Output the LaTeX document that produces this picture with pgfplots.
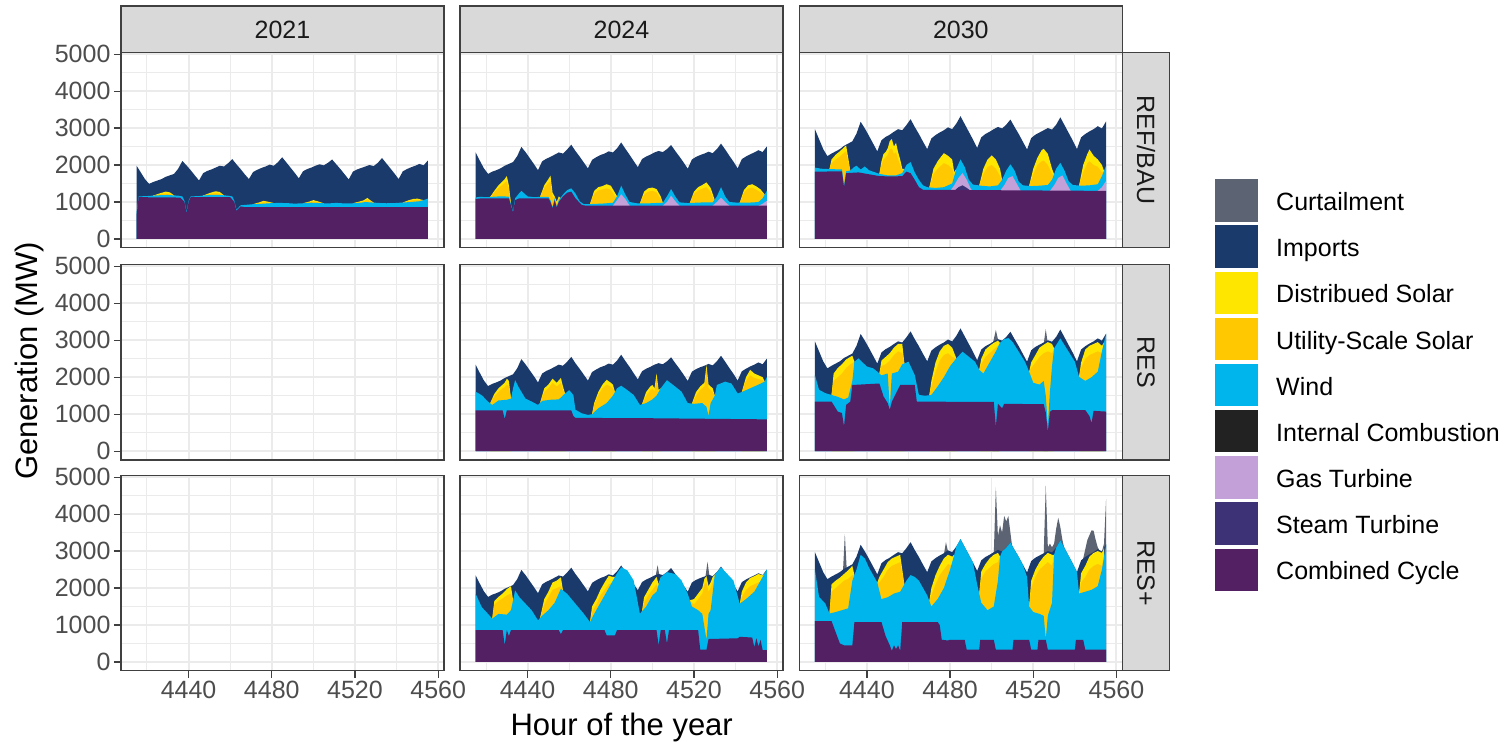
\documentclass[border=0pt]{standalone}
\usepackage{fontspec}
\setmainfont{Liberation Sans}
\usepackage{pgfplots}
\usepackage{pgfplotstable}
\pgfplotsset{compat=1.18}
\definecolor{cCur}{HTML}{5C6372}
\definecolor{cImp}{HTML}{1A3A6C}
\definecolor{cDs}{HTML}{FFE600}
\definecolor{cUs}{HTML}{FFC800}
\definecolor{cW}{HTML}{00B4EC}
\definecolor{cIc}{HTML}{222222}
\definecolor{cGt}{HTML}{C3A0D7}
\definecolor{cSt}{HTML}{3D3275}
\definecolor{cCc}{HTML}{532064}
\definecolor{cGrid}{HTML}{EBEBEB}
\definecolor{cFrame}{HTML}{404040}
\definecolor{cStrip}{HTML}{D9D9D9}
\definecolor{cTick}{HTML}{4D4D4D}
\definecolor{cStripT}{HTML}{1A1A1A}
\newcommand\smallf{\fontsize{25}{30}\selectfont}
\newcommand\bigf{\fontsize{31}{37}\selectfont}

\pgfplotstableread{
h v
4415 1980
4417 1800
4419 1620
4421 1490
4423 1540
4425 1580
4427 1620
4429 1680
4431 1720
4433 1760
4435 1900
4437 2110
4439 1990
4441 1860
4443 1720
4445 1580
4447 1780
4449 1840
4451 1880
4453 1930
4455 1980
4457 1960
4459 2050
4461 2160
4463 2020
4465 1890
4467 1750
4469 1620
4471 1810
4473 1870
4475 1920
4477 1960
4479 2010
4481 1980
4483 2080
4485 2210
4487 2070
4489 1930
4491 1790
4493 1640
4495 1830
4497 1890
4499 1930
4501 1980
4503 2020
4505 1990
4507 2060
4509 2150
4511 2020
4513 1890
4515 1750
4517 1610
4519 1820
4521 1880
4523 1920
4525 1960
4527 2000
4529 1970
4531 2060
4533 2190
4535 2050
4537 1910
4539 1770
4541 1620
4543 1830
4545 1890
4547 1940
4549 1980
4551 2030
4553 1990
4555 2120
}\totA

\pgfplotstableread{
h v
4415 2340
4417 2120
4419 1910
4421 1760
4423 1820
4425 1860
4427 1910
4429 1980
4431 2030
4433 2080
4435 2240
4437 2490
4439 2350
4441 2190
4443 2030
4445 1860
4447 2100
4449 2170
4451 2220
4453 2280
4455 2340
4457 2310
4459 2420
4461 2550
4463 2380
4465 2230
4467 2070
4469 1910
4471 2140
4473 2210
4475 2270
4477 2310
4479 2370
4481 2340
4483 2450
4485 2610
4487 2440
4489 2280
4491 2110
4493 1940
4495 2160
4497 2230
4499 2280
4501 2340
4503 2380
4505 2350
4507 2430
4509 2540
4511 2380
4513 2230
4515 2070
4517 1900
4519 2150
4521 2220
4523 2270
4525 2310
4527 2360
4529 2320
4531 2430
4533 2580
4535 2420
4537 2250
4539 2090
4541 1910
4543 2160
4545 2230
4547 2290
4549 2340
4551 2400
4553 2350
4555 2500
}\totB

\pgfplotstableread{
h v
4415 2970
4417 2700
4419 2430
4421 2240
4423 2310
4425 2370
4427 2430
4429 2520
4431 2580
4433 2640
4435 2850
4437 3170
4439 2990
4441 2790
4443 2580
4445 2370
4447 2670
4449 2760
4451 2820
4453 2900
4455 2970
4457 2940
4459 3080
4461 3240
4463 3030
4465 2840
4467 2630
4469 2430
4471 2720
4473 2810
4475 2880
4477 2940
4479 3020
4481 2970
4483 3120
4485 3320
4487 3110
4489 2900
4491 2690
4493 2460
4495 2750
4497 2840
4499 2900
4501 2970
4503 3030
4505 2990
4507 3090
4509 3230
4511 3030
4513 2840
4515 2630
4517 2420
4519 2730
4521 2820
4523 2880
4525 2940
4527 3000
4529 2960
4531 3090
4533 3290
4535 3080
4537 2870
4539 2660
4541 2430
4543 2750
4545 2840
4547 2910
4549 2970
4551 3050
4553 2990
4555 3180
}\totC

\pgfplotsset{
  lCur/.style={draw=none,fill=cCur},
  lImp/.style={draw=none,fill=cImp},
  lDs/.style={draw=none,fill=cDs},
  lUs/.style={draw=none,fill=cUs},
  lW/.style={draw=none,fill=cW},
  lGt/.style={draw=none,fill=cGt},
  lSt/.style={draw=none,fill=cSt},
  lCc/.style={draw=none,fill=cCc},
  panel/.style={
    scale only axis, width=323pt, height=195.5pt, anchor=north west,
    xmin=4407.5, xmax=4562.8, ymin=-240, ymax=5050,
    xtick={4440,4480,4520,4560}, minor xtick={4420,4460,4500,4540},
    ytick={0,1000,2000,3000,4000,5000}, minor ytick={500,1500,2500,3500,4500},
    xmajorgrids, ymajorgrids, xminorgrids, yminorgrids,
    major grid style={draw=cGrid, line width=2pt},
    minor grid style={draw=cGrid, line width=1pt},
    axis line style={draw=cFrame, line width=1.2pt},
    tick align=outside, major tick length=7pt, minor tick length=0pt,
    xtick pos=bottom, ytick pos=left,
    xtick style={draw=none}, ytick style={draw=none},
    xticklabels={}, yticklabels={},
    ticklabel style={font=\smallf, text=cTick},
  },
  ylab/.style={yticklabels={0,1000,2000,3000,4000,5000}, ytick style={draw=cFrame, line width=1.2pt}},
  xlab/.style={xticklabels={4440,4480,4520,4560}, xtick style={draw=cFrame, line width=1.2pt}},
}

\begin{document}
\begin{tikzpicture}
\path[use as bounding box] (0pt,0pt) rectangle (1508pt,-743pt);

% ---------------- 2021 REF/BAU
\begin{axis}[panel, ylab, at={(121pt,-52.3pt)}]
\addplot[lImp] table[x=h,y=v]{\totA} \closedcycle;
\addplot[lDs] coordinates {(4423,1172)(4426,1230)(4429,1280)(4431,1260)(4433,1178)} \closedcycle;
\addplot[lDs] coordinates {(4447,1172)(4450,1240)(4453,1290)(4455,1270)(4457,1180)} \closedcycle;
\addplot[lDs] coordinates {(4471,940)(4474,990)(4476,1030)(4478,1010)(4481,970)} \closedcycle;
\addplot[lDs] coordinates {(4495,965)(4498,1010)(4500,1050)(4502,1020)(4505,965)} \closedcycle;
\addplot[lDs] coordinates {(4519,965)(4522,1010)(4524,1040)(4526,1110)(4527,1060)(4529,982)} \closedcycle;
\addplot[lDs] coordinates {(4543,985)(4546,1050)(4548,1080)(4550,1090)(4553,1050)} \closedcycle;
\addplot[lUs] coordinates {(4423,1172)(4426,1205)(4429,1230)(4431,1220)(4433,1178)} \closedcycle;
\addplot[lUs] coordinates {(4447,1172)(4450,1215)(4453,1240)(4455,1225)(4457,1180)} \closedcycle;
\addplot[lUs] coordinates {(4471,940)(4474,965)(4476,990)(4478,985)(4481,970)} \closedcycle;
\addplot[lUs] coordinates {(4495,965)(4498,985)(4500,1010)(4502,995)(4505,965)} \closedcycle;
\addplot[lUs] coordinates {(4519,965)(4522,990)(4524,1010)(4526,1070)(4527,1030)(4529,982)} \closedcycle;
\addplot[lUs] coordinates {(4543,985)(4546,1025)(4548,1050)(4550,1055)(4553,1050)} \closedcycle;
\addplot[lW] coordinates {(4415,720)(4416,1150)(4420,1160)(4425,1180)(4430,1190)(4435,1170)(4437,1150)(4438,1030)(4439,730)(4440,1030)(4441,1150)(4445,1160)(4450,1190)(4455,1190)(4459,1170)(4461,1150)(4462,1030)(4463,790)(4465,910)(4467,920)(4471,940)(4475,950)(4479,965)(4483,975)(4487,970)(4491,955)(4495,965)(4499,980)(4503,970)(4507,960)(4511,975)(4515,960)(4519,965)(4523,980)(4525,1000)(4527,990)(4531,975)(4535,965)(4539,970)(4543,985)(4547,1000)(4551,1020)(4553,1050)(4555,1090)} \closedcycle;
\addplot[lCc] coordinates {(4415,650)(4416,1130)(4436,1120)(4438,1000)(4439,700)(4440,1000)(4441,1130)(4460,1130)(4462,1000)(4463,760)(4465,880)(4467,860)(4555,860)} \closedcycle;
\end{axis}

% ---------------- 2024 REF/BAU
\begin{axis}[panel, at={(460pt,-52.3pt)}]
\addplot[lImp] table[x=h,y=v]{\totB} \closedcycle;
\addplot[lDs] coordinates {(4422,1135)(4424,1300)(4426,1450)(4428,1560)(4429,1620)(4430,1700)(4431,1450)(4432,950)} \closedcycle;
\addplot[lDs] coordinates {(4446,1140)(4448,1450)(4450,1620)(4451,1710)(4452,1250)(4453,1150)(4454,1000)(4455,1150)(4456,1100)} \closedcycle;
\addplot[lDs] coordinates {(4470,945)(4472,1300)(4474,1400)(4476,1430)(4478,1480)(4480,1440)(4482,1250)(4483,1150)} \closedcycle;
\addplot[lDs] coordinates {(4494,960)(4496,1280)(4498,1370)(4500,1390)(4502,1350)(4504,1150)(4505,980)} \closedcycle;
\addplot[lDs] coordinates {(4518,975)(4520,1280)(4522,1400)(4524,1460)(4526,1530)(4528,1380)(4530,1050)} \closedcycle;
\addplot[lDs] coordinates {(4542,980)(4544,1320)(4546,1450)(4548,1480)(4550,1420)(4552,1340)(4554,1200)} \closedcycle;
\addplot[lUs] coordinates {(4422,1135)(4424,1260)(4426,1380)(4428,1470)(4429,1520)(4430,1560)(4431,1350)(4432,950)} \closedcycle;
\addplot[lUs] coordinates {(4446,1140)(4448,1380)(4450,1520)(4451,1560)(4452,1150)(4453,1120)(4454,950)(4455,1100)(4456,1090)} \closedcycle;
\addplot[lUs] coordinates {(4470,945)(4472,1220)(4474,1310)(4476,1340)(4478,1370)(4480,1330)(4482,1150)(4483,1150)} \closedcycle;
\addplot[lUs] coordinates {(4494,960)(4496,1200)(4498,1280)(4500,1300)(4502,1260)(4504,1080)(4505,980)} \closedcycle;
\addplot[lUs] coordinates {(4518,975)(4520,1220)(4522,1310)(4524,1360)(4526,1400)(4528,1270)(4530,1000)} \closedcycle;
\addplot[lUs] coordinates {(4542,980)(4544,1250)(4546,1360)(4548,1390)(4550,1330)(4552,1260)(4554,1200)} \closedcycle;
\addplot[lW] coordinates {(4415,1120)(4417,1140)(4420,1130)(4423,1140)(4426,1150)(4429,1150)(4431,1140)(4432,950)(4433,740)(4434,1100)(4436,1240)(4437,1300)(4438,1250)(4440,1150)(4443,1130)(4447,1140)(4450,1140)(4451,1050)(4452,860)(4453,1100)(4454,880)(4455,1050)(4457,1200)(4459,1320)(4461,1370)(4463,1230)(4465,1020)(4467,940)(4469,940)(4473,950)(4477,960)(4481,980)(4483,1150)(4485,1440)(4487,1200)(4489,1000)(4493,960)(4497,960)(4501,970)(4505,980)(4507,1150)(4509,1350)(4511,1150)(4513,990)(4517,970)(4521,980)(4525,990)(4529,990)(4531,1150)(4533,1400)(4535,1150)(4537,1000)(4541,980)(4545,980)(4549,990)(4551,1000)(4553,1100)(4555,1300)} \closedcycle;
\addplot[lGt] coordinates {(4481,900)(4483,1050)(4485,1210)(4487,1080)(4489,900)} \closedcycle;
\addplot[lGt] coordinates {(4505,900)(4507,1000)(4509,1170)(4511,1020)(4513,900)} \closedcycle;
\addplot[lGt] coordinates {(4529,900)(4531,1000)(4533,1120)(4535,1000)(4537,900)} \closedcycle;
\addplot[lGt] coordinates {(4551,900)(4553,950)(4555,1030)} \closedcycle;
\addplot[lCc] coordinates {(4415,1080)(4418,1100)(4431,1100)(4432,900)(4433,720)(4434,1050)(4436,1100)(4450,1100)(4451,1000)(4452,830)(4453,1050)(4454,850)(4455,1000)(4457,1150)(4459,1250)(4461,1280)(4463,1100)(4466,920)(4468,900)(4555,900)} \closedcycle;
\end{axis}

% ---------------- 2030 REF/BAU
\begin{axis}[panel, at={(799.3pt,-52.3pt)}]
\addplot[lImp] table[x=h,y=v]{\totC} \closedcycle;
\addplot[lDs] coordinates {(4422,1890)(4423,2150)(4425,2280)(4427,2370)(4429,2480)(4430,2530)(4431,2200)(4432,1850)} \closedcycle;
\addplot[lDs] coordinates {(4446,1760)(4447,2100)(4448,2300)(4449,2350)(4450,2450)(4451,2650)(4452,2700)(4453,2500)(4454,2600)(4455,2350)(4456,2150)(4457,1900)(4458,1890)} \closedcycle;
\addplot[lDs] coordinates {(4470,1390)(4472,1900)(4474,2100)(4476,2250)(4477,2320)(4479,2250)(4481,2150)(4482,1800)(4483,1900)} \closedcycle;
\addplot[lDs] coordinates {(4494,1445)(4496,1900)(4498,2150)(4500,2260)(4502,2150)(4504,1900)(4505,1600)} \closedcycle;
\addplot[lDs] coordinates {(4518,1435)(4520,1900)(4522,2200)(4524,2400)(4525,2440)(4527,2300)(4529,1900)(4530,1750)} \closedcycle;
\addplot[lDs] coordinates {(4542,1445)(4544,2000)(4546,2300)(4547,2420)(4549,2250)(4551,2150)(4553,2000)(4554,1840)} \closedcycle;
\addplot[lUs] coordinates {(4422,1890)(4423,2050)(4425,2150)(4427,2230)(4429,2330)(4430,2370)(4431,2100)(4432,1850)} \closedcycle;
\addplot[lUs] coordinates {(4446,1760)(4447,2000)(4448,2150)(4449,2200)(4450,2280)(4451,2420)(4452,2450)(4453,2300)(4454,2350)(4455,2150)(4456,2000)(4457,1850)(4458,1890)} \closedcycle;
\addplot[lUs] coordinates {(4470,1390)(4472,1750)(4474,1900)(4476,2000)(4477,2050)(4479,2000)(4481,1900)(4482,1700)(4483,1900)} \closedcycle;
\addplot[lUs] coordinates {(4494,1445)(4496,1750)(4498,1950)(4500,2000)(4502,1900)(4504,1700)(4505,1600)} \closedcycle;
\addplot[lUs] coordinates {(4518,1435)(4520,1750)(4522,2000)(4524,2100)(4525,2120)(4527,2000)(4529,1750)(4530,1750)} \closedcycle;
\addplot[lUs] coordinates {(4542,1445)(4544,1800)(4546,2050)(4547,2100)(4549,2000)(4551,1950)(4553,1800)(4554,1840)} \closedcycle;
\addplot[lW] coordinates {(4415,1930)(4418,1900)(4422,1890)(4428,1880)(4429,1450)(4430,1830)(4432,1850)(4434,1950)(4435,1980)(4437,1880)(4439,1960)(4441,1860)(4443,1820)(4446,1760)(4450,1720)(4454,1720)(4457,1780)(4459,2000)(4461,2080)(4463,1800)(4465,1600)(4467,1450)(4469,1400)(4473,1380)(4477,1400)(4481,1500)(4483,1900)(4485,2150)(4487,1950)(4489,1600)(4491,1470)(4495,1440)(4499,1420)(4503,1450)(4505,1600)(4507,1850)(4509,2020)(4511,1850)(4513,1550)(4515,1450)(4519,1430)(4523,1440)(4527,1460)(4529,1600)(4531,1900)(4533,2060)(4535,1850)(4537,1560)(4539,1460)(4543,1440)(4547,1450)(4551,1480)(4553,1700)(4555,1980)} \closedcycle;
\addplot[lGt] coordinates {(4480,1300)(4482,1450)(4484,1650)(4486,1780)(4488,1600)(4490,1350)(4491,1300)} \closedcycle;
\addplot[lGt] coordinates {(4504,1300)(4506,1450)(4508,1650)(4510,1700)(4512,1500)(4514,1300)} \closedcycle;
\addplot[lGt] coordinates {(4528,1300)(4530,1450)(4532,1650)(4534,1720)(4536,1500)(4538,1300)} \closedcycle;
\addplot[lGt] coordinates {(4551,1300)(4553,1400)(4555,1570)} \closedcycle;
\addplot[lSt] coordinates {(4482,1300)(4484,1400)(4486,1450)(4488,1380)(4490,1300)} \closedcycle;
\addplot[lCc] coordinates {(4415,1820)(4428,1830)(4429,1400)(4430,1780)(4436,1800)(4440,1760)(4446,1700)(4452,1690)(4457,1700)(4459,1820)(4461,1780)(4463,1600)(4465,1400)(4467,1330)(4555,1300)} \closedcycle;
\end{axis}

% ---------------- 2021 RES (empty)
\begin{axis}[panel, ylab, at={(121pt,-264.5pt)}]
\end{axis}

% ---------------- 2024 RES
\begin{axis}[panel, at={(460pt,-264.5pt)}]
\addplot[lImp] table[x=h,y=v]{\totB} \closedcycle;
\addplot[lDs] coordinates {(4422,1295)(4424,1550)(4426,1700)(4428,1800)(4429,1850)(4430,1960)(4431,1900)(4432,1420)} \closedcycle;
\addplot[lDs] coordinates {(4446,1305)(4448,1700)(4450,1800)(4452,1960)(4454,1850)(4456,1980)(4457,1750)(4458,1560)} \closedcycle;
\addplot[lDs] coordinates {(4471,1000)(4472,1300)(4474,1600)(4476,1800)(4478,1930)(4480,1850)(4481,1800)(4482,1600)} \closedcycle;
\addplot[lDs] coordinates {(4495,1267)(4497,1600)(4499,1750)(4500,1790)(4501,1700)(4502,2100)(4503,1650)(4504,1700)} \closedcycle;
\addplot[lDs] coordinates {(4519,1285)(4521,1600)(4523,1750)(4525,1850)(4526,2330)(4527,1800)(4528,1750)(4529,1700)(4530,1500)} \closedcycle;
\addplot[lDs] coordinates {(4543,1600)(4545,2000)(4547,2200)(4549,2100)(4551,2050)(4553,2000)(4554,1880)} \closedcycle;
\addplot[lUs] coordinates {(4422,1295)(4424,1480)(4426,1600)(4428,1700)(4429,1730)(4430,1800)(4431,1750)(4432,1420)} \closedcycle;
\addplot[lUs] coordinates {(4446,1305)(4448,1600)(4450,1700)(4452,1850)(4454,1750)(4456,1850)(4457,1650)(4458,1560)} \closedcycle;
\addplot[lUs] coordinates {(4471,1000)(4472,1250)(4474,1520)(4476,1700)(4478,1800)(4480,1750)(4481,1700)(4482,1600)} \closedcycle;
\addplot[lUs] coordinates {(4495,1267)(4497,1500)(4499,1650)(4500,1680)(4501,1620)(4502,1950)(4503,1600)(4504,1700)} \closedcycle;
\addplot[lUs] coordinates {(4519,1285)(4521,1500)(4523,1650)(4525,1750)(4526,2200)(4527,1700)(4528,1650)(4529,1600)(4530,1500)} \closedcycle;
\addplot[lUs] coordinates {(4543,1600)(4545,1900)(4547,2050)(4549,1980)(4551,1950)(4553,1920)(4554,1880)} \closedcycle;
\addplot[lW] coordinates {(4415,1610)(4418,1510)(4421,1340)(4423,1250)(4426,1370)(4430,1390)(4432,1420)(4433,1700)(4434,1920)(4436,1700)(4439,1420)(4442,1340)(4445,1250)(4447,1360)(4451,1390)(4455,1400)(4458,1560)(4460,1650)(4462,1520)(4463,1120)(4466,1025)(4469,980)(4471,1000)(4474,1160)(4478,1300)(4481,1500)(4483,1700)(4485,1770)(4488,1650)(4491,1520)(4494,1250)(4497,1300)(4500,1400)(4502,1500)(4504,1700)(4507,1920)(4510,1790)(4514,1610)(4517,1300)(4520,1280)(4524,1300)(4526,1200)(4527,950)(4528,1300)(4530,1500)(4531,1790)(4535,1880)(4538,1830)(4541,1560)(4543,1600)(4547,1700)(4551,1800)(4554,1880)(4555,2000)} \closedcycle;
\addplot[lCc] coordinates {(4415,1100)(4428,1100)(4429,870)(4430,1100)(4461,1100)(4462,950)(4463,900)(4500,890)(4555,860)} \closedcycle;
\end{axis}

% ---------------- 2030 RES
\begin{axis}[panel, at={(799.3pt,-264.5pt)}]
\addplot[lCur] coordinates {(4500.5,2900)(4502,3280)(4503.5,2900)} \closedcycle;
\addplot[lCur] coordinates {(4525,2900)(4526,3300)(4527,2900)} \closedcycle;
\addplot[lImp] table[x=h,y=v]{\totC} \closedcycle;
\addplot[lDs] coordinates {(4423,1520)(4424,2100)(4426,2250)(4428,2350)(4430,2480)(4432,2550)(4433,2580)(4434,2420)} \closedcycle;
\addplot[lDs] coordinates {(4446,2100)(4447,2450)(4449,2550)(4451,2650)(4453,2800)(4455,2900)(4457,2900)(4458,2380)} \closedcycle;
\addplot[lDs] coordinates {(4470,1510)(4471,1900)(4473,2400)(4475,2700)(4477,2850)(4479,2900)(4481,2800)(4483,2510)} \closedcycle;
\addplot[lDs] coordinates {(4494,2200)(4495,2500)(4497,2750)(4499,2850)(4501,2930)(4503,2990)(4504,2930)} \closedcycle;
\addplot[lDs] coordinates {(4518,2150)(4519,2400)(4521,2600)(4523,2800)(4525,2880)(4527,2950)(4529,2900)(4530,2780)} \closedcycle;
\addplot[lDs] coordinates {(4542,2010)(4543,2400)(4545,2750)(4547,2850)(4549,2900)(4551,2950)(4553,2850)(4554,2940)} \closedcycle;
\addplot[lUs] coordinates {(4423,1520)(4424,1900)(4426,2000)(4428,2100)(4430,2250)(4432,2350)(4433,2380)(4434,2420)} \closedcycle;
\addplot[lUs] coordinates {(4446,2100)(4447,2300)(4449,2350)(4451,2450)(4453,2600)(4455,2700)(4457,2650)(4458,2380)} \closedcycle;
\addplot[lUs] coordinates {(4470,1510)(4471,1750)(4473,2150)(4475,2450)(4477,2600)(4479,2650)(4481,2550)(4483,2510)} \closedcycle;
\addplot[lUs] coordinates {(4494,2200)(4495,2350)(4497,2550)(4499,2650)(4501,2750)(4503,2850)(4504,2930)} \closedcycle;
\addplot[lUs] coordinates {(4518,2150)(4519,2250)(4521,2400)(4523,2550)(4525,2650)(4527,2700)(4529,2650)(4530,2780)} \closedcycle;
\addplot[lUs] coordinates {(4542,2010)(4543,2250)(4545,2500)(4547,2600)(4549,2650)(4551,2700)(4553,2650)(4554,2940)} \closedcycle;
\addplot[lW] coordinates {(4415,2060)(4417,1660)(4420,1570)(4423,1520)(4426,1470)(4429,1400)(4431,1450)(4433,1900)(4434,2420)(4436,2510)(4437,2450)(4440,2290)(4443,2240)(4445,2150)(4447,2050)(4450,2100)(4451,1200)(4452,2100)(4455,2150)(4457,2350)(4460,2420)(4463,2060)(4465,1520)(4468,1500)(4471,1520)(4474,1750)(4477,2000)(4480,2300)(4483,2510)(4486,2690)(4489,2555)(4492,2420)(4494,2200)(4496,2100)(4499,2400)(4502,2700)(4504,2930)(4506,3030)(4508,3060)(4510,2960)(4513,2690)(4516,2420)(4518,2150)(4520,1850)(4523,1800)(4525,1900)(4526,1500)(4527,700)(4528,1600)(4529,2300)(4530,2780)(4533,3050)(4537,2690)(4540,2420)(4542,2010)(4545,1900)(4548,2000)(4551,2150)(4553,2700)(4555,3180)} \closedcycle;
\addplot[lCc] coordinates {(4415,1340)(4423,1340)(4426,1070)(4428,1030)(4429,670)(4430,1250)(4432,1340)(4433,1790)(4446,1830)(4448,1480)(4450,1300)(4451,1120)(4452,1340)(4456,1790)(4463,1790)(4464,1340)(4501,1330)(4502,670)(4503,1280)(4505,1160)(4506,1280)(4525,1270)(4526,1050)(4527,530)(4528,1060)(4529,1110)(4545,1110)(4547,950)(4548,760)(4549,1090)(4555,1070)} \closedcycle;
\end{axis}

% ---------------- 2021 RES+ (empty)
\begin{axis}[panel, ylab, xlab, at={(121pt,-475.3pt)}]
\end{axis}

% ---------------- 2024 RES+
\begin{axis}[panel, xlab, at={(460pt,-475.3pt)}]
\addplot[lCur] coordinates {(4501.5,2300)(4502.5,2620)(4503.5,2300)} \closedcycle;
\addplot[lCur] coordinates {(4525.5,2300)(4526.5,2710)(4527.5,2300)} \closedcycle;
\addplot[lImp] table[x=h,y=v]{\totB} \closedcycle;
\addplot[lDs] coordinates {(4423,1170)(4424,1650)(4426,1760)(4428,1850)(4430,1970)(4432,2050)(4433,1670)} \closedcycle;
\addplot[lDs] coordinates {(4446,1190)(4448,1700)(4450,1900)(4452,2150)(4454,2200)(4456,2290)(4457,1940)} \closedcycle;
\addplot[lDs] coordinates {(4470,1080)(4471,1500)(4473,1700)(4475,1950)(4477,2150)(4479,2330)(4481,2300)(4482,2300)} \closedcycle;
\addplot[lDs] coordinates {(4495,1370)(4496,1750)(4498,1950)(4500,2150)(4502,2300)(4503,2100)(4504,2290)} \closedcycle;
\addplot[lDs] coordinates {(4518,1670)(4520,1700)(4522,1850)(4524,2000)(4525,2250)(4526,2320)(4527,2050)(4528,2150)(4529,2300)(4530,2360)} \closedcycle;
\addplot[lDs] coordinates {(4542,1575)(4543,1900)(4545,2150)(4547,2270)(4549,2320)(4551,2380)(4553,2340)(4554,2400)} \closedcycle;
\addplot[lUs] coordinates {(4423,1170)(4424,1550)(4426,1650)(4428,1720)(4430,1800)(4432,1850)(4433,1670)} \closedcycle;
\addplot[lUs] coordinates {(4446,1190)(4448,1550)(4450,1750)(4452,1950)(4454,2000)(4456,2050)(4457,1940)} \closedcycle;
\addplot[lUs] coordinates {(4470,1080)(4471,1350)(4473,1550)(4475,1800)(4477,1950)(4479,2100)(4481,2150)(4482,2300)} \closedcycle;
\addplot[lUs] coordinates {(4495,1370)(4496,1600)(4498,1800)(4500,1950)(4502,2100)(4503,2000)(4504,2290)} \closedcycle;
\addplot[lUs] coordinates {(4518,1670)(4520,1550)(4522,1700)(4524,1850)(4525,2100)(4526,2150)(4527,1900)(4528,2000)(4529,2150)(4530,2360)} \closedcycle;
\addplot[lUs] coordinates {(4542,1575)(4543,1750)(4545,1950)(4547,2050)(4549,2100)(4551,2150)(4553,2200)(4554,2350)} \closedcycle;
\addplot[lW] coordinates {(4415,1845)(4418,1480)(4421,1300)(4423,1170)(4426,1300)(4430,1280)(4432,1400)(4434,1935)(4436,1755)(4439,1575)(4442,1395)(4445,1125)(4447,1250)(4450,1400)(4453,1600)(4456,1980)(4459,1845)(4463,1575)(4467,1305)(4470,1080)(4472,1300)(4475,1600)(4478,1900)(4481,2200)(4483,2400)(4485,2560)(4488,2475)(4491,2205)(4494,1305)(4497,1500)(4500,1800)(4502,1900)(4504,2290)(4507,2430)(4511,2380)(4514,2205)(4517,1845)(4519,1500)(4522,1400)(4524,1300)(4526,600)(4527,1300)(4528,1400)(4530,2360)(4533,2560)(4536,2380)(4539,2200)(4542,1575)(4545,1700)(4549,1900)(4552,2200)(4555,2500)} \closedcycle;
\addplot[lCc] coordinates {(4415,860)(4428,860)(4429,450)(4430,860)(4431,700)(4432,860)(4455,860)(4456,750)(4457,860)(4477,860)(4478,720)(4482,720)(4483,860)(4502,860)(4503,450)(4504,860)(4506,860)(4507,500)(4508,860)(4522,860)(4523,330)(4526,330)(4527,620)(4541,640)(4542,680)(4548,660)(4549,400)(4550,640)(4551,420)(4552,600)(4553,320)(4555,320)} \closedcycle;
\end{axis}

% ---------------- 2030 RES+
\begin{axis}[panel, xlab, at={(799.3pt,-475.3pt)}]
\addplot[lCur] coordinates {(4428.5,2450)(4429.4,3460)(4430.3,2500)} \closedcycle;
\addplot[lCur] coordinates {(4477,2900)(4478,3240)(4479,2990)} \closedcycle;
\addplot[lCur] coordinates {(4501,2900)(4502,4720)(4503,3400)(4504,3700)(4505,3500)(4506,3950)(4507,3800)(4508,3950)(4509,3500)(4510,3050)} \closedcycle;
\addplot[lCur] coordinates {(4525,2900)(4526,4770)(4527,3100)(4528,3200)(4529,3100)(4530,3200)(4531,3600)(4532,3900)(4533,3650)(4534,3300)(4535,3050)} \closedcycle;
\addplot[lCur] coordinates {(4544,2800)(4546,3300)(4548,3560)(4549,3550)(4550,3300)(4551,3100)(4552,3000)} \closedcycle;
\addplot[lCur] coordinates {(4553,2990)(4554,3200)(4555,4410)} \closedcycle;
\addplot[lImp] table[x=h,y=v]{\totC} \closedcycle;
\addplot[lDs] coordinates {(4422,1310)(4423,2100)(4425,2200)(4427,2280)(4429,2380)(4431,2480)(4433,2600)(4434,2350)} \closedcycle;
\addplot[lDs] coordinates {(4445,2150)(4446,2300)(4448,2500)(4450,2700)(4452,2800)(4454,2850)(4456,2900)(4457,2500)(4458,2100)} \closedcycle;
\addplot[lDs] coordinates {(4470,1650)(4471,2000)(4473,2350)(4475,2600)(4477,2800)(4479,2900)(4481,2850)(4482,2900)} \closedcycle;
\addplot[lDs] coordinates {(4494,1850)(4495,2450)(4497,2650)(4499,2800)(4501,2900)(4503,2950)(4504,2850)} \closedcycle;
\addplot[lDs] coordinates {(4518,1500)(4519,2200)(4521,2500)(4523,2700)(4525,2850)(4527,2950)(4529,2900)(4530,2900)} \closedcycle;
\addplot[lDs] coordinates {(4542,1850)(4543,2400)(4545,2600)(4547,2850)(4549,2950)(4551,3000)(4553,2950)(4554,3080)} \closedcycle;
\addplot[lUs] coordinates {(4422,1310)(4423,1900)(4425,2000)(4427,2100)(4429,2200)(4431,2250)(4433,2350)(4434,2350)} \closedcycle;
\addplot[lUs] coordinates {(4445,2150)(4446,2150)(4448,2300)(4450,2500)(4452,2600)(4454,2650)(4456,2700)(4457,2400)(4458,2100)} \closedcycle;
\addplot[lUs] coordinates {(4470,1650)(4471,1800)(4473,2100)(4475,2350)(4477,2500)(4479,2650)(4481,2600)(4482,2900)} \closedcycle;
\addplot[lUs] coordinates {(4494,1850)(4495,2250)(4497,2450)(4499,2550)(4501,2650)(4503,2700)(4504,2850)} \closedcycle;
\addplot[lUs] coordinates {(4518,1500)(4519,2000)(4521,2300)(4523,2500)(4525,2600)(4527,2700)(4529,2600)(4530,2900)} \closedcycle;
\addplot[lUs] coordinates {(4542,1850)(4543,2150)(4545,2300)(4547,2500)(4549,2600)(4551,2650)(4553,2600)(4554,2900)} \closedcycle;
\addplot[lW] coordinates {(4415,2500)(4417,1760)(4420,1580)(4422,1310)(4425,1350)(4428,1400)(4431,1450)(4433,2200)(4435,2500)(4437,2900)(4439,2800)(4441,2550)(4443,2350)(4445,2150)(4447,1700)(4450,1750)(4453,1850)(4456,1900)(4458,2100)(4459,2200)(4461,2350)(4463,2300)(4465,2200)(4467,2000)(4469,1800)(4471,1500)(4474,1700)(4477,2000)(4480,2500)(4482,2900)(4483,3120)(4485,3320)(4487,3110)(4489,2900)(4491,2690)(4493,2100)(4495,1600)(4498,1400)(4501,1500)(4503,2200)(4504,2850)(4505,2990)(4507,3090)(4509,3230)(4511,3030)(4513,2840)(4515,2630)(4517,2300)(4518,1500)(4520,1350)(4523,1300)(4525,1250)(4526,620)(4527,1250)(4529,1600)(4530,2900)(4531,3090)(4533,3290)(4535,3080)(4537,2870)(4539,2660)(4541,2430)(4542,1850)(4545,1900)(4548,1950)(4551,2050)(4553,2500)(4555,3180)} \closedcycle;
\addplot[lCc] coordinates {(4415,1105)(4423,1105)(4425,800)(4427,500)(4429,450)(4433,450)(4434,1080)(4447,1080)(4449,700)(4451,450)(4452,300)(4453,450)(4454,350)(4455,450)(4456,300)(4457,1080)(4474,1080)(4475,1000)(4476,600)(4479,580)(4480,600)(4487,600)(4488,330)(4494,330)(4494.5,600)(4501,600)(4502,330)(4510,330)(4510.5,600)(4518,600)(4519,330)(4522,330)(4522.5,600)(4526,600)(4527,330)(4540,330)(4540.5,600)(4544,600)(4545,330)(4555,330)} \closedcycle;
\end{axis}

% ---------------- strips
\begin{scope}[line width=1.2pt]
\draw[fill=cStrip, draw=cFrame] (121pt,-6pt) rectangle (444pt,-52.3pt);
\draw[fill=cStrip, draw=cFrame] (460pt,-6pt) rectangle (783pt,-52.3pt);
\draw[fill=cStrip, draw=cFrame] (799.3pt,-6pt) rectangle (1122.3pt,-52.3pt);
\draw[fill=cStrip, draw=cFrame] (1122.3pt,-52.3pt) rectangle (1169.3pt,-247.8pt);
\draw[fill=cStrip, draw=cFrame] (1122.3pt,-264.5pt) rectangle (1169.3pt,-460pt);
\draw[fill=cStrip, draw=cFrame] (1122.3pt,-475.3pt) rectangle (1169.3pt,-670.8pt);
\end{scope}
\node[font=\smallf, text=cStripT] at (282.5pt,-30pt) {2021};
\node[font=\smallf, text=cStripT] at (621.5pt,-30pt) {2024};
\node[font=\smallf, text=cStripT] at (960.8pt,-30pt) {2030};
\node[font=\smallf, text=cStripT, rotate=-90] at (1146pt,-150pt) {REF/BAU};
\node[font=\smallf, text=cStripT, rotate=-90] at (1146pt,-362.2pt) {RES};
\node[font=\smallf, text=cStripT, rotate=-90] at (1146pt,-573pt) {RES+};

% ---------------- axis titles
\node[font=\bigf, anchor=base] at (621.7pt,-735pt) {Hour of the year};
\node[font=\bigf, rotate=90, anchor=base] at (37pt,-361pt) {Generation (MW)};

% ---------------- legend
\foreach \c/\t [count=\i from 0] in {cCur/Curtailment, cImp/Imports, cDs/Distribued Solar, cUs/Utility-Scale Solar, cW/Wind, cIc/Internal Combustion, cGt/Gas Turbine, cSt/Steam Turbine, cCc/Combined Cycle}{
  \fill[\c] (1215.3pt,{-179.3pt-46.15pt*\i}) rectangle (1258pt,{-221.7pt-46.15pt*\i});
  \node[font=\smallf, anchor=base west, inner sep=0pt] at (1276pt,{-210.7pt-46.15pt*\i}) {\t};
}
\end{tikzpicture}
\end{document}
